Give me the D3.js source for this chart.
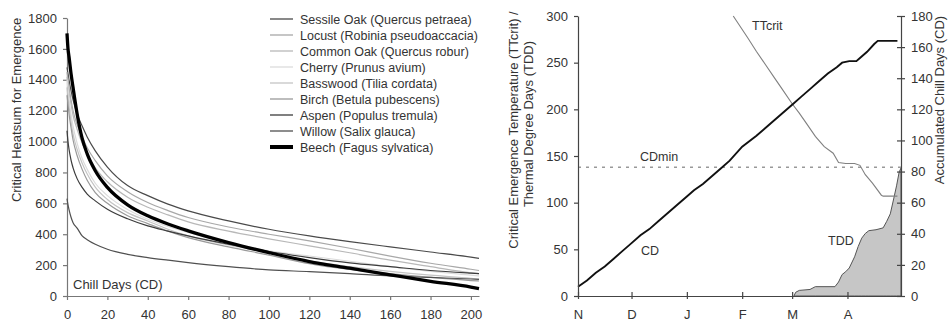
<!DOCTYPE html>
<html><head><meta charset="utf-8">
<script src="https://cdn.jsdelivr.net/npm/d3@7"></script>
<style>
body{margin:0;background:#fff;}
svg{display:block;font-family:"Liberation Sans",Arial,sans-serif;}
text{fill:#333;}
</style></head>
<body>
<svg id="c" width="952" height="322"></svg>
<script>
// ---------- Left chart data ----------
const chillDays = [0, 0.5, 1, 2, 3, 5, 7.5, 10, 14, 20, 30, 40, 50, 60, 80, 100, 120, 140, 160, 180, 200, 204];
const speciesNames = ["Sessile Oak (Quercus petraea)", "Locust (Robinia pseudoaccacia)", "Common Oak (Quercus robur)", "Cherry (Prunus avium)", "Basswood (Tilia cordata)", "Birch (Betula pubescens)", "Aspen (Populus tremula)", "Willow (Salix glauca)", "Beech (Fagus sylvatica)"];
const sessileOak = [1480, 1440, 1400, 1330, 1270, 1180, 1100, 1030, 940, 835, 715, 650, 595, 551, 486, 432, 389, 352, 318, 285, 252, 244];
const locust     = [1450, 1400, 1350, 1270, 1200, 1110, 1030, 960, 876, 778, 675, 605, 553, 508, 447, 400, 357, 309, 258, 212, 173, 165];
const commonOak  = [1420, 1370, 1320, 1240, 1170, 1080, 990, 920, 830, 740, 640, 575, 525, 480, 420, 370, 325, 280, 232, 190, 150, 145];
const cherry     = [1400, 1340, 1280, 1180, 1100, 990, 890, 820, 730, 650, 560, 497, 450, 411, 346, 292, 259, 225, 190, 160, 135, 130];
const basswood   = [1350, 1290, 1230, 1130, 1050, 950, 860, 790, 705, 625, 540, 486, 432, 389, 331, 280, 227, 190, 160, 135, 115, 110];
const birch      = [1300, 1240, 1180, 1090, 1010, 910, 820, 750, 670, 600, 520, 469, 420, 378, 318, 265, 210, 172, 145, 120, 100, 97];
const aspen      = [1070, 1000, 950, 880, 830, 760, 703, 660, 616, 562, 500, 454, 420, 389, 335, 288, 249, 215, 190, 165, 148, 145];
const willow     = [630, 590, 560, 510, 475, 440, 389, 365, 335, 303, 270, 249, 232, 216, 190, 169, 158, 145, 130, 120, 110, 108];
const beech      = [1700, 1600, 1550, 1440, 1350, 1180, 1020, 920, 811, 703, 590, 519, 466, 422, 346, 281, 223, 180, 137, 95, 58, 48];
const leftXTicks = [0, 20, 40, 60, 80, 100, 120, 140, 160, 180, 200];
const leftYTicks = [0, 200, 400, 600, 800, 1000, 1200, 1400, 1600, 1800];

// ---------- Right chart data (days after 1 November) ----------
const cdDays   = [0, 5, 10, 15, 20, 25, 30, 35, 40, 45, 50, 55, 61, 65, 70, 75, 80, 85, 92, 100, 105, 110, 115, 120, 125, 130, 135, 140, 145, 148, 152, 156, 158, 162, 166, 168, 179];
const cdValues = [6, 10, 15, 19, 24, 29, 34, 39, 43, 48, 53, 58, 64, 68, 72, 77, 82, 87, 96, 103, 108, 113, 118, 123, 128, 133, 138, 143, 147, 150, 151, 151, 153, 157, 162, 164, 164];
const ttDays   = [87, 95, 100, 105, 110, 115, 120, 124, 128, 133, 138, 143, 146, 150, 155, 158, 161, 165, 170, 171, 179];
const ttValues = [300, 277, 262, 248, 234, 220, 206, 196, 185, 171, 160, 153, 143, 142, 142, 140, 130, 121, 108, 107, 107];
const tddDays   = [121, 122, 124, 130, 133, 144, 146, 148, 150, 152, 155, 157, 159, 161, 163, 167, 171, 173, 175, 177, 178.5, 180, 181];
const tddValues = [0, 4, 6, 7, 10, 10, 15, 23, 26, 30, 42, 53, 62, 67, 70, 71, 73, 80, 88, 105, 118, 133, 137];
const cdMin = 138;
const monthLabels = ["N", "D", "J", "F", "M", "A"];
const rightLeftTicks = [0, 50, 100, 150, 200, 250, 300];
const rightRightTicks = [0, 20, 40, 60, 80, 100, 120, 140, 160, 180];

const svg = d3.select("#c");
const fmt = d3.format("d");

// ================= LEFT CHART =================
const xL = d3.scaleLinear().domain([0, 204]).range([67, 479]);
const yL = d3.scaleLinear().domain([0, 1800]).range([296, 18]);
const axisCol = "#777";

const gLx = svg.append("g").attr("transform", "translate(0,296)")
  .call(d3.axisBottom(xL).tickValues(leftXTicks).tickFormat(fmt).tickSizeInner(4).tickSizeOuter(0).tickPadding(10));
const gLy = svg.append("g").attr("transform", "translate(67,0)")
  .call(d3.axisLeft(yL).tickValues(leftYTicks).tickFormat(fmt).tickSizeInner(4).tickSizeOuter(0).tickPadding(6));
[gLx, gLy].forEach(g => {
  g.selectAll("path,line").attr("stroke", axisCol).attr("stroke-width", 1.2);
  g.selectAll("text").attr("font-size", 13).attr("fill", "#333").attr("font-family", "Liberation Sans, Arial, sans-serif");
});

const series = [
  {name: speciesNames[0], vals: sessileOak, color: "#4a4a4a", w: 1.2},
  {name: speciesNames[1], vals: locust,     color: "#a8a8a8", w: 1.2},
  {name: speciesNames[2], vals: commonOak,  color: "#b8b8b8", w: 1.2},
  {name: speciesNames[3], vals: cherry,     color: "#dcdcdc", w: 1.2},
  {name: speciesNames[4], vals: basswood,   color: "#c4c4c4", w: 1.2},
  {name: speciesNames[5], vals: birch,      color: "#999999", w: 1.2},
  {name: speciesNames[6], vals: aspen,      color: "#3c3c3c", w: 1.2},
  {name: speciesNames[7], vals: willow,     color: "#505050", w: 1.2},
  {name: speciesNames[8], vals: beech,      color: "#000000", w: 3.3}
];
const lineL = d3.line().x(d => xL(d[0])).y(d => yL(d[1])).curve(d3.curveMonotoneX);
series.forEach(s => {
  svg.append("path").datum(chillDays.map((c, i) => [c, s.vals[i]]))
    .attr("d", lineL).attr("fill", "none").attr("stroke", s.color).attr("stroke-width", s.w);
});

// legend
series.forEach((s, i) => {
  const y = 19 + i * 16;
  svg.append("line").attr("x1", 270).attr("x2", 293).attr("y1", y).attr("y2", y)
    .attr("stroke", s.color).attr("stroke-width", s.w > 3 ? 4 : 1.3);
  svg.append("text").attr("x", 300).attr("y", y + 4.5).attr("font-size", 12.5).text(s.name);
});

svg.append("text").attr("x", 73).attr("y", 289).attr("font-size", 13).text("Chill Days (CD)");
svg.append("text").attr("transform", "translate(21,110) rotate(-90)").attr("text-anchor", "middle")
  .attr("font-size", 13).text("Critical Heatsum for Emergence");

// ================= RIGHT CHART =================
const t0 = new Date(2000, 10, 1), t1 = new Date(2001, 4, 1);
const dayToDate = d => new Date(t0.getTime() + d * 86400000);
const xR = d3.scaleTime().domain([t0, t1]).range([578, 901]);
const yRL = d3.scaleLinear().domain([0, 300]).range([296, 16]);
const yRR = d3.scaleLinear().domain([0, 180]).range([296, 16]);
const axR = "#444";

// TDD area
const tddData = tddDays.map((d, i) => [dayToDate(d), tddValues[i]]);
svg.append("path").datum(tddData)
  .attr("d", d3.area().x(d => xR(d[0])).y0(yRL(0)).y1(d => yRL(d[1])))
  .attr("fill", "#c6c6c6").attr("stroke", "#555").attr("stroke-width", 1);

// CDmin dotted line
svg.append("line").attr("x1", xR(t0)).attr("x2", xR(t1)).attr("y1", yRL(cdMin)).attr("y2", yRL(cdMin))
  .attr("stroke", "#999").attr("stroke-width", 1.6).attr("stroke-dasharray", "3,5");

// TTcrit line
const ttData = ttDays.map((d, i) => [dayToDate(d), ttValues[i]]);
svg.append("path").datum(ttData)
  .attr("d", d3.line().x(d => xR(d[0])).y(d => yRL(d[1])))
  .attr("fill", "none").attr("stroke", "#808080").attr("stroke-width", 1.1);

// CD line (right axis)
const cdData = cdDays.map((d, i) => [dayToDate(d), cdValues[i]]);
svg.append("path").datum(cdData)
  .attr("d", d3.line().x(d => xR(d[0])).y(d => yRR(d[1])))
  .attr("fill", "none").attr("stroke", "#111").attr("stroke-width", 1.9);

// axes
const monthTicks = d3.timeMonth.range(t0, t1);
const gRx = svg.append("g").attr("transform", "translate(0,296)")
  .call(d3.axisBottom(xR).tickValues(monthTicks).tickFormat((d, i) => monthLabels[i])
    .tickSizeInner(4).tickSizeOuter(0).tickPadding(10));
gRx.selectAll(".tick line").attr("y1", -4).attr("y2", 3);
const gRl = svg.append("g").attr("transform", "translate(578,0)")
  .call(d3.axisLeft(yRL).tickValues(rightLeftTicks).tickFormat(fmt).tickSizeInner(4).tickSizeOuter(0).tickPadding(6));
const gRr = svg.append("g").attr("transform", "translate(901,0)")
  .call(d3.axisRight(yRR).tickValues(rightRightTicks).tickFormat(fmt).tickSizeInner(4).tickSizeOuter(0).tickPadding(6));
gRr.selectAll(".tick line").attr("x1", -4).attr("x2", 4);
[gRx, gRl, gRr].forEach(g => {
  g.selectAll("path,line").attr("stroke", axR).attr("stroke-width", 1.2);
  g.selectAll("text").attr("font-size", 13).attr("fill", "#333").attr("font-family", "Liberation Sans, Arial, sans-serif");
});

// annotations
svg.append("text").attr("x", 752).attr("y", 30).attr("font-size", 12.5).text("TTcrit");
svg.append("text").attr("x", 640).attr("y", 161).attr("font-size", 12.5).text("CDmin");
svg.append("text").attr("x", 641).attr("y", 255).attr("font-size", 12.5).text("CD");
svg.append("text").attr("x", 828).attr("y", 245).attr("font-size", 12.5).text("TDD");

svg.append("text").attr("transform", "translate(518,130) rotate(-90)").attr("text-anchor", "middle")
  .attr("font-size", 13).text("Critical Emergence Temperature (TTcrit) /");
svg.append("text").attr("transform", "translate(533,124) rotate(-90)").attr("text-anchor", "middle")
  .attr("font-size", 13).text("Thermal Degree Days (TDD)");
svg.append("text").attr("transform", "translate(944,100) rotate(-90)").attr("text-anchor", "middle")
  .attr("font-size", 13).text("Accumulated Chill Days (CD)");
</script>
</body></html>
